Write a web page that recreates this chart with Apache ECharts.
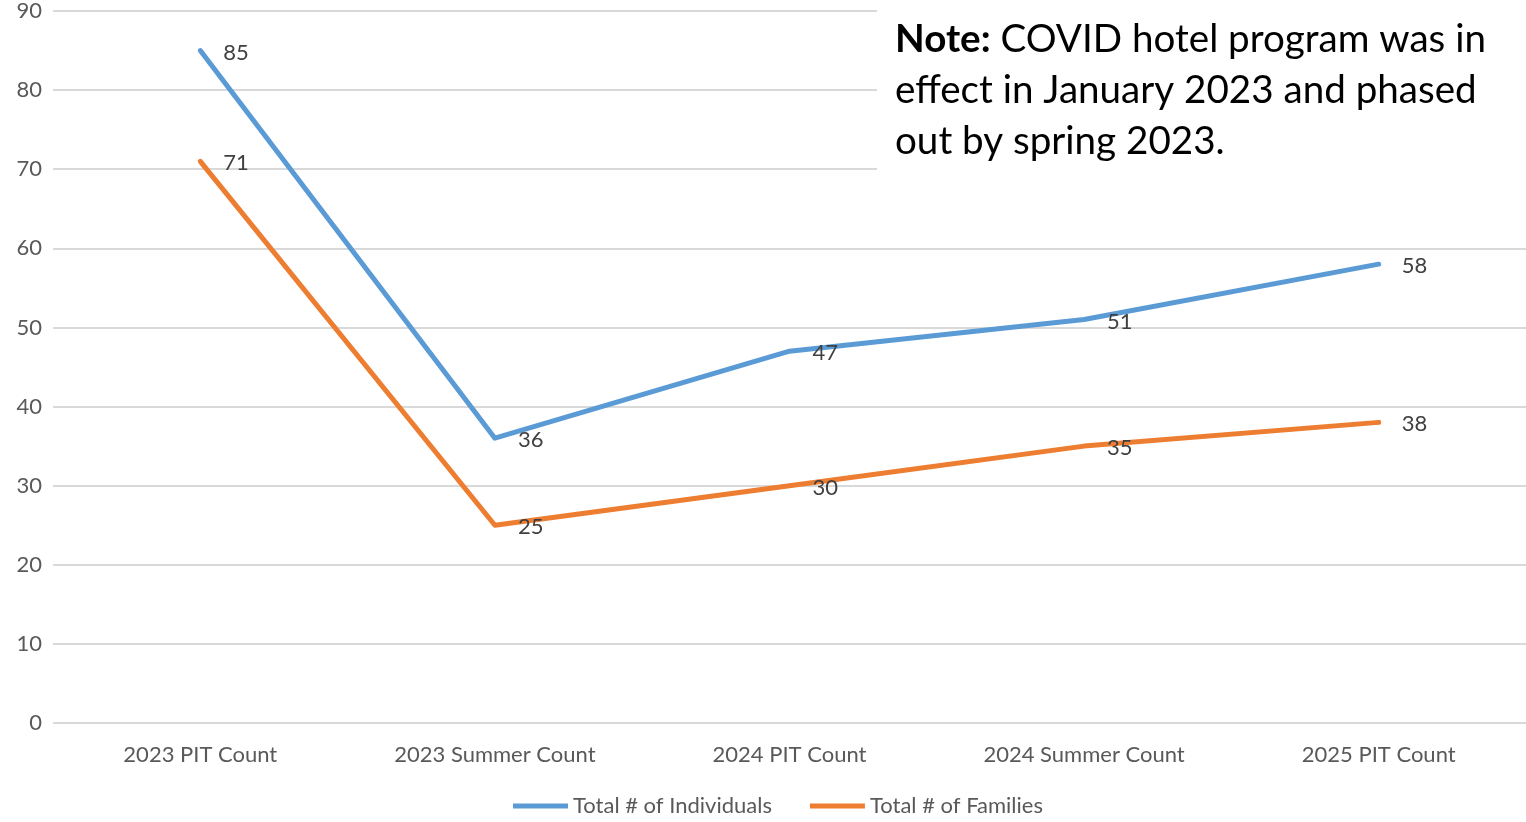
<!DOCTYPE html>
<html>
<head>
<meta charset="utf-8">
<script src="https://cdn.jsdelivr.net/npm/echarts@6/dist/echarts.min.js"></script>
<style>
  html, body { margin: 0; padding: 0; background: #fff; }
  #main { width: 1526px; height: 822px; }
</style>
</head>
<body>
<div id="main"></div>
<script>
// categories and values
var categories = ['2023 PIT Count', '2023 Summer Count', '2024 PIT Count', '2024 Summer Count', '2025 PIT Count'];
var individuals = [85, 36, 47, 51, 58];
var families = [71, 25, 30, 35, 38];

var fontFam = 'Lato, "Open Sans", sans-serif';

var myChart = echarts.init(document.getElementById('main'));

function lineSeries(name, data, color) {
    return {
        name: name,
        type: 'line',
        data: data,
        symbol: 'circle',
        symbolSize: 2,
        itemStyle: { color: color },
        lineStyle: { width: 5, color: color, cap: 'round', join: 'round' },
        label: {
            show: true,
            position: 'right',
            distance: 22,
            offset: [0, 2],
            color: '#404040',
            fontSize: 22,
            fontFamily: fontFam
        },
        z: 3
    };
}

var option = {
    animation: false,
    backgroundColor: '#fff',
    grid: { left: 53, right: 0, top: 10, bottom: 99 },
    legend: {
        bottom: 0,
        left: 508,
        icon: 'rect',
        itemWidth: 55,
        itemHeight: 5,
        itemGap: 38,
        textStyle: { color: '#595959', fontSize: 22, fontFamily: fontFam },
        data: ['Total # of Individuals', 'Total # of Families']
    },
    xAxis: {
        type: 'category',
        data: categories,
        boundaryGap: true,
        axisLine: { show: false },
        axisTick: { show: false },
        axisLabel: { color: '#595959', fontSize: 22, fontFamily: fontFam, margin: 21 }
    },
    yAxis: {
        type: 'value',
        min: 0,
        max: 90,
        interval: 10,
        axisLine: { show: false },
        axisTick: { show: false },
        axisLabel: { color: '#595959', fontSize: 22, fontFamily: fontFam, margin: 11 },
        splitLine: { lineStyle: { color: '#d9d9d9', width: 2 } }
    },
    graphic: [
        {
            type: 'rect',
            left: 877,
            top: 0,
            shape: { width: 649, height: 200 },
            style: { fill: '#fff' },
            z: 1
        },
        {
            type: 'text',
            left: 895,
            top: 14,
            z: 2,
            style: {
                text: '{b|Note:} COVID hotel program was in\neffect in January 2023 and phased\nout by spring 2023.',
                fill: '#000',
                font: '38.6px ' + fontFam,
                lineHeight: 51,
                rich: {
                    b: { fontWeight: 'bold', fontSize: 38.6, fontFamily: fontFam, fill: '#000', lineHeight: 51 }
                }
            }
        }
    ],
    series: [
        lineSeries('Total # of Individuals', individuals, '#5B9BD5'),
        lineSeries('Total # of Families', families, '#ED7D31')
    ]
};

myChart.setOption(option);
</script>
</body>
</html>
